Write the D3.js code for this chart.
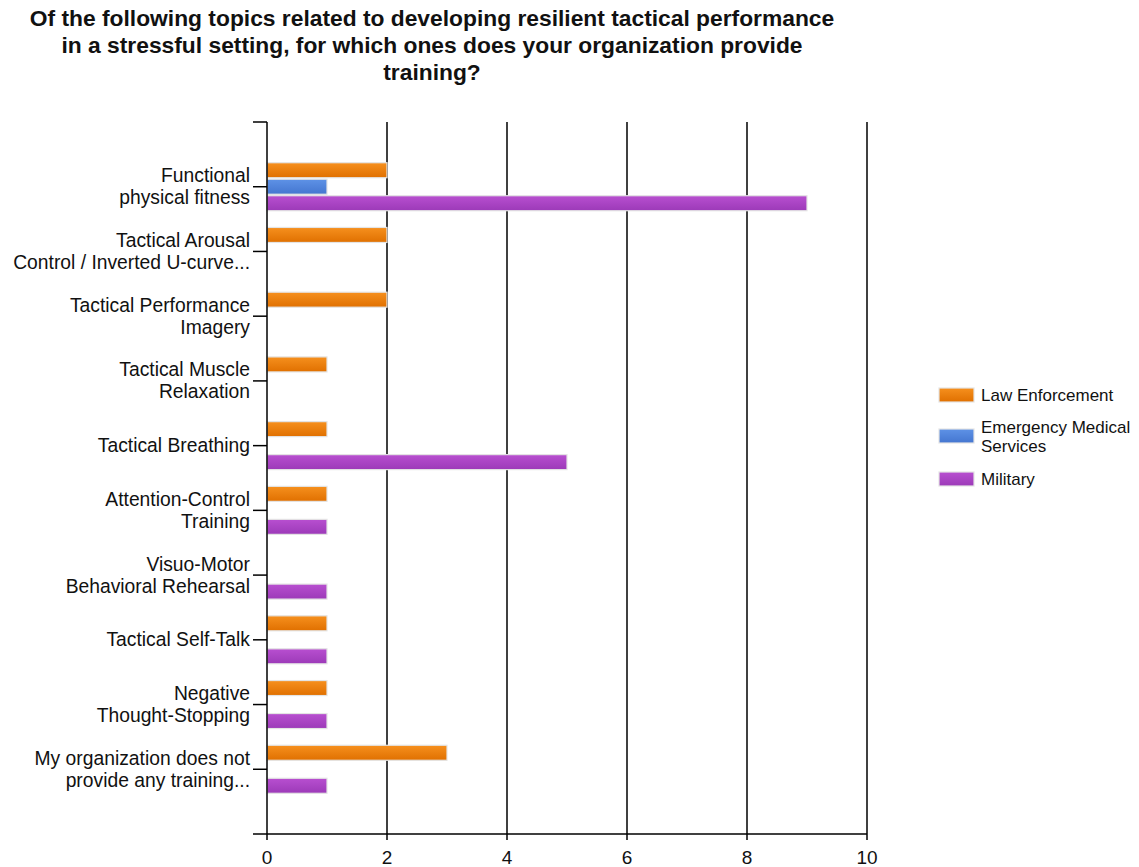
<!DOCTYPE html>
<html>
<head>
<meta charset="utf-8">
<script src="https://cdn.jsdelivr.net/npm/d3@7"></script>
<style>
  body { margin: 0; background: #fff; }
  svg { display: block; font-family: "Liberation Sans", Arial, sans-serif; }
</style>
</head>
<body>
<svg id="chart" width="1139" height="867"></svg>
<script>
var titleLines = [
  'Of the following topics related to developing resilient tactical performance',
  'in a stressful setting, for which ones does your organization provide',
  'training?'
];

var categories = [
  ['Functional', 'physical fitness'],
  ['Tactical Arousal', 'Control / Inverted U-curve...'],
  ['Tactical Performance', 'Imagery'],
  ['Tactical Muscle', 'Relaxation'],
  ['Tactical Breathing'],
  ['Attention-Control', 'Training'],
  ['Visuo-Motor', 'Behavioral Rehearsal'],
  ['Tactical Self-Talk'],
  ['Negative', 'Thought-Stopping'],
  ['My organization does not', 'provide any training...']
];

var seriesNames = ['Law Enforcement', 'Emergency Medical Services', 'Military'];
var lawEnforcement = [2, 2, 2, 1, 1, 1, 0, 1, 1, 3];
var emergencyMedical = [1, 0, 0, 0, 0, 0, 0, 0, 0, 0];
var military = [9, 0, 0, 0, 5, 1, 1, 1, 1, 1];
var xTicks = [0, 2, 4, 6, 8, 10];

var seriesValues = [lawEnforcement, emergencyMedical, military];
var colors = [
  { top: '#f6901e', bottom: '#e07000' },
  { top: '#5e92e6', bottom: '#4476d0' },
  { top: '#b84fd0', bottom: '#9c3ab8' }
];

(function() {
  var svg = d3.select('#chart');
  var defs = svg.append('defs');
  colors.forEach(function(c, i) {
    var g = defs.append('linearGradient')
      .attr('id', 'grad' + i)
      .attr('x1', 0).attr('y1', 0).attr('x2', 0).attr('y2', 1);
    g.append('stop').attr('offset', '0%').attr('stop-color', c.top);
    g.append('stop').attr('offset', '100%').attr('stop-color', c.bottom);
  });

  // title
  svg.append('g').selectAll('text')
    .data(titleLines)
    .enter().append('text')
    .attr('x', 432)
    .attr('y', function(d, i) { return 26 + i * 27; })
    .attr('text-anchor', 'middle')
    .style('font-weight', 'bold')
    .style('font-size', '22.8px')
    .attr('fill', '#111')
    .text(function(d) { return d; });

  var plotLeft = 267, plotRight = 867, plotTop = 122, plotBottom = 834;

  var x = d3.scaleLinear().domain([0, 10]).range([plotLeft, plotRight]);
  var y = d3.scalePoint()
    .domain(d3.range(categories.length))
    .range([plotTop, plotBottom])
    .padding(1);

  var barH = 15;
  var offsets = [-16.5, 0, 16.5];

  // grid lines
  svg.append('g').selectAll('line')
    .data(xTicks.filter(function(d) { return d > 0; }))
    .enter().append('line')
    .attr('x1', function(d) { return x(d); })
    .attr('x2', function(d) { return x(d); })
    .attr('y1', plotTop)
    .attr('y2', plotBottom + 6)
    .attr('stroke', '#000')
    .attr('stroke-width', 1.5);

  // bars
  var barLayer = svg.append('g');
  seriesValues.forEach(function(vals, s) {
    barLayer.selectAll('rect.s' + s)
      .data(vals.map(function(v, i) { return { v: v, i: i }; }).filter(function(d) { return d.v > 0; }))
      .enter().append('rect')
      .attr('class', 's' + s)
      .attr('x', x(0))
      .attr('y', function(d) { return y(d.i) + offsets[s] - barH / 2; })
      .attr('width', function(d) { return x(d.v) - x(0); })
      .attr('height', barH)
      .attr('fill', 'url(#grad' + s + ')')
      .attr('stroke', '#e4e4e4')
      .attr('stroke-width', 1.2);
  });

  // y axis
  var yAxis = svg.append('g');
  yAxis.append('line')
    .attr('x1', plotLeft).attr('x2', plotLeft)
    .attr('y1', plotTop).attr('y2', plotBottom + 6)
    .attr('stroke', '#000').attr('stroke-width', 1.5);
  yAxis.selectAll('line.tick')
    .data([plotTop].concat(categories.map(function(d, i) { return y(i); })))
    .enter().append('line')
    .attr('class', 'tick')
    .attr('x1', plotLeft - 14).attr('x2', plotLeft)
    .attr('y1', function(d) { return d; })
    .attr('y2', function(d) { return d; })
    .attr('stroke', '#000').attr('stroke-width', 1.5);

  var labels = yAxis.selectAll('text')
    .data(categories)
    .enter().append('text')
    .attr('text-anchor', 'end')
    .style('font-size', '19.3px')
    .attr('fill', '#111');
  labels.each(function(lines, i) {
    var t = d3.select(this);
    var lh = 22;
    var start = y(i) - (lines.length - 1) * lh / 2 + 6.5;
    lines.forEach(function(l, j) {
      t.append('tspan')
        .attr('x', 250)
        .attr('y', start + j * lh)
        .text(l);
    });
  });

  // x axis
  var xAxis = svg.append('g');
  xAxis.append('line')
    .attr('x1', plotLeft - 14).attr('x2', plotRight)
    .attr('y1', plotBottom).attr('y2', plotBottom)
    .attr('stroke', '#000').attr('stroke-width', 1.5);
  xAxis.selectAll('text')
    .data(xTicks)
    .enter().append('text')
    .attr('x', function(d) { return x(d); })
    .attr('y', 864)
    .attr('text-anchor', 'middle')
    .style('font-size', '19px')
    .attr('fill', '#111')
    .text(function(d) { return d; });

  // legend
  var legend = svg.append('g').attr('transform', 'translate(939,0)');
  var legendY = [395, 436, 479];
  var legendLines = [['Law Enforcement'], ['Emergency Medical', 'Services'], ['Military']];
  seriesNames.forEach(function(name, s) {
    legend.append('rect')
      .attr('x', 0).attr('y', legendY[s] - 7)
      .attr('width', 35).attr('height', 14)
      .attr('fill', 'url(#grad' + s + ')')
      .attr('stroke', '#e4e4e4').attr('stroke-width', 1.2);
    var t = legend.append('text')
      .style('font-size', '17px')
      .attr('fill', '#111');
    var lines = legendLines[s];
    lines.forEach(function(l, j) {
      t.append('tspan')
        .attr('x', 42)
        .attr('y', legendY[s] + 6 - (lines.length - 1) * 9.5 + j * 19)
        .text(l);
    });
  });
})();
</script>
</body>
</html>
